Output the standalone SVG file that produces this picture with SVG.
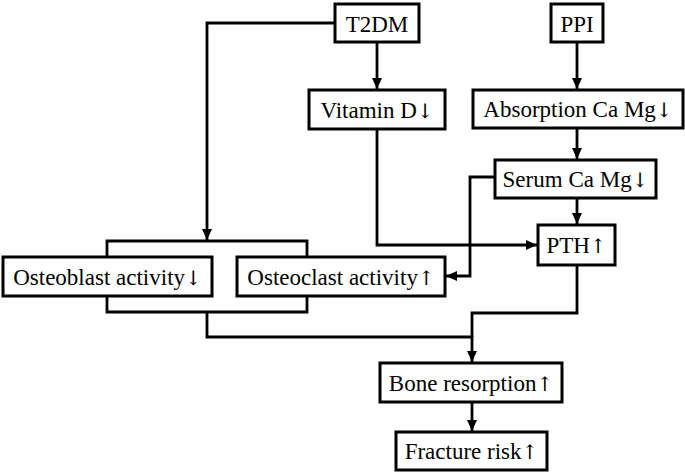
<svg xmlns="http://www.w3.org/2000/svg" width="685" height="473" viewBox="0 0 685 473">
<style>
.box{fill:#fff;stroke:#000;stroke-width:3}
.lbl{font-family:"Liberation Serif","Times New Roman",serif;font-size:23px;fill:#000;text-anchor:middle}
.ar{font-family:"DejaVu Serif","Noto Sans",serif;font-size:20px;fill:#000}
.c{fill:none;stroke:#000;stroke-width:2.8}
</style>
<defs>
<marker id="ah" markerUnits="userSpaceOnUse" markerWidth="12" markerHeight="10" refX="11" refY="5" orient="auto">
<path d="M0,0 L11,5 L0,10 Z" fill="#000"/>
</marker>
</defs>
<rect width="685" height="473" fill="#fff"/>
<g id="connectors">
<path class="c" d="M335,23 H207 V240" marker-end="url(#ah)"/>
<path class="c" d="M377,42 V89" marker-end="url(#ah)"/>
<path class="c" d="M377,129 V245 H537" marker-end="url(#ah)"/>
<path class="c" d="M577,42 V89" marker-end="url(#ah)"/>
<path class="c" d="M577,128 V159" marker-end="url(#ah)"/>
<path class="c" d="M577,198 V224" marker-end="url(#ah)"/>
<path class="c" d="M495,177 H470 V276 H446" marker-end="url(#ah)"/>
<path class="c" d="M107,257 V241 H307 V257"/>
<path class="c" d="M107,296 V312 H307 V296"/>
<path class="c" d="M207,312 V337 H472 V362" marker-end="url(#ah)"/>
<path class="c" d="M577,265 V313 H472 V337"/>
<path class="c" d="M472,402 V431" marker-end="url(#ah)"/>
</g>
<g id="t2dm"><rect class="box" x="335" y="4" width="84" height="38"/><text class="lbl" x="377" y="32">T2DM</text></g>
<g id="ppi"><rect class="box" x="551" y="4" width="52" height="38"/><text class="lbl" x="577" y="32">PPI</text></g>
<g id="vitd"><rect class="box" x="309" y="90" width="136" height="39"/><text class="lbl" x="377" y="118">Vitamin D<tspan class="ar">↓</tspan></text></g>
<g id="absorption"><rect class="box" x="473" y="90" width="210" height="38"/><text class="lbl" x="578" y="117">Absorption Ca Mg<tspan class="ar">↓</tspan></text></g>
<g id="serum"><rect class="box" x="495" y="160" width="161" height="38"/><text class="lbl" x="575.5" y="187">Serum Ca Mg<tspan class="ar">↓</tspan></text></g>
<g id="pth"><rect class="box" x="538" y="225" width="77" height="40"/><text class="lbl" x="576.5" y="253">PTH<tspan class="ar">↑</tspan></text></g>
<g id="osteoblast"><rect class="box" x="3" y="257" width="209" height="39"/><text class="lbl" x="107.5" y="285">Osteoblast activity<tspan class="ar">↓</tspan></text></g>
<g id="osteoclast"><rect class="box" x="237" y="257" width="208" height="39"/><text class="lbl" x="341" y="285">Osteoclast activity<tspan class="ar">↑</tspan></text></g>
<g id="bone"><rect class="box" x="380" y="363" width="182" height="39"/><text class="lbl" x="471" y="391">Bone resorption<tspan class="ar">↑</tspan></text></g>
<g id="fracture"><rect class="box" x="396" y="432" width="151" height="38"/><text class="lbl" x="471.5" y="459">Fracture risk<tspan class="ar">↑</tspan></text></g>
</svg>
